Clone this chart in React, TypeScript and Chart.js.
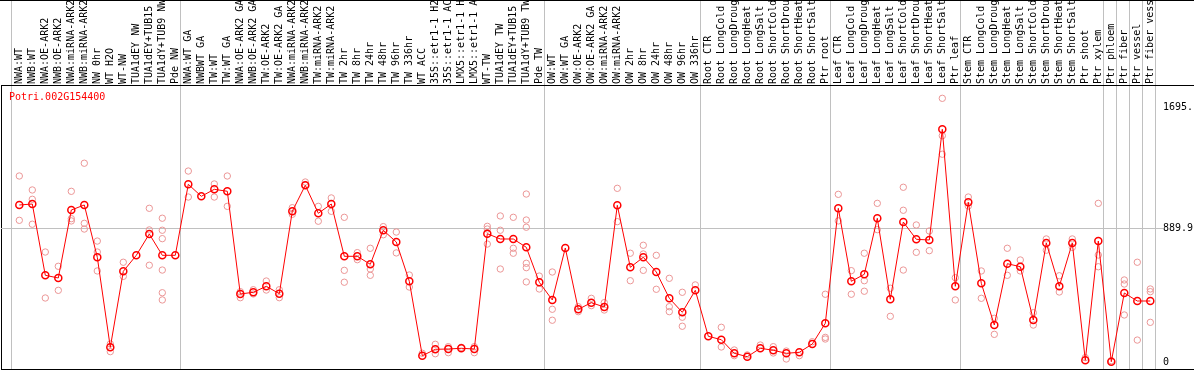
import React, { useEffect, useRef } from 'react';
import { Chart, registerables } from 'chart.js';

Chart.register(...registerables);

const geneId = 'Potri.002G154400';

const categories = [
  'NWA:WT', 'NWB:WT', 'NWA:OE-ARK2', 'NWB:OE-ARK2', 'NWA:miRNA-ARK2', 'NWB:miRNA-ARK2', 'NW 0hr', 'WT H2O', 'WT-NW', 'TUA1dEY NW',
  'TUA1dEY+TUB15 NW', 'TUA1dY+TUB9 NW', 'Pde NW', 'NWA:WT GA', 'NWBWT GA', 'TW:WT', 'TW:WT GA', 'NWA:OE-ARK2 GA', 'NWB:OE-ARK2 GA', 'TW:OE-ARK2',
  'TW:OE-ARK2 GA', 'NWA:miRNA-ARK2 GA', 'NWB:miRNA-ARK2 GA', 'TW:miRNA-ARK2', 'TW:miRNA-ARK2 GA', 'TW 2hr', 'TW 8hr', 'TW 24hr', 'TW 48hr', 'TW 96hr',
  'TW 336hr', 'WT ACC', '35S::etr1-1 H2O', '35S::etr1-1 ACC', 'LMX5::etr1-1 H2O', 'LMX5::etr1-1 ACC', 'WT-TW', 'TUA1dEY TW', 'TUA1dEY+TUB15 TW', 'TUA1dY+TUB9 TW',
  'Pde TW', 'OW:WT', 'OW:WT GA', 'OW:OE-ARK2', 'OW:OE-ARK2 GA', 'OW:miRNA-ARK2', 'OW:miRNA-ARK2 GA', 'OW 2hr', 'OW 8hr', 'OW 24hr',
  'OW 48hr', 'OW 96hr', 'OW 336hr', 'Root CTR', 'Root LongCold', 'Root LongDrought', 'Root LongHeat', 'Root LongSalt', 'Root ShortCold', 'Root ShortDrought',
  'Root ShortHeat', 'Root ShortSalt', 'Ptr root', 'Leaf CTR', 'Leaf LongCold', 'Leaf LongDrought', 'Leaf LongHeat', 'Leaf LongSalt', 'Leaf ShortCold', 'Leaf ShortDrought',
  'Leaf ShortHeat', 'Leaf ShortSalt', 'Ptr leaf', 'Stem CTR', 'Stem LongCold', 'Stem LongDrought', 'Stem LongHeat', 'Stem LongSalt', 'Stem ShortCold', 'Stem ShortDrought',
  'Stem ShortHeat', 'Stem ShortSalt', 'Ptr shoot', 'Ptr xylem', 'Ptr phloem', 'Ptr fiber', 'Ptr vessel', 'Ptr fiber vessel',
];

const means = [
  1045.0, 1051.6, 577.1, 559.1, 1011.7, 1045.0, 696.9, 97.8, 603.7, 710.2,
  852.0, 710.2, 710.2, 1182.8, 1102.9, 1149.5, 1136.2, 452.6, 463.9, 503.9,
  454.6, 1003.1, 1176.1, 989.7, 1051.6, 703.5, 703.5, 650.3, 876.6, 798.7,
  537.1, 41.9, 84.5, 86.5, 91.2, 86.5, 854.0, 818.7, 818.7, 763.4,
  530.5, 412.7, 758.8, 350.8, 394.7, 366.1, 1043.0, 630.3, 696.9, 599.0,
  424.0, 330.8, 477.2, 171.1, 148.4, 57.9, 35.3, 91.2, 77.9, 57.9,
  64.6, 119.8, 257.6, 1023.0, 537.1, 583.7, 956.5, 417.3, 931.8, 816.7,
  812.0, 1548.9, 503.9, 1062.9, 523.8, 246.3, 654.3, 634.3, 279.6, 792.1,
  503.9, 792.1, 11.3, 805.4, 2.0, 459.3, 406.0, 406.0,
];

const replicates: number[][] = [
  [1238, 943], [1145, 1083, 917], [732, 426], [637, 477], [1136, 954, 939],
  [1323, 923, 885], [805, 732, 606], [120, 69], [664, 570], [],
  [1023, 879, 644], [957, 877, 821, 612, 461, 413], [], [1271, 1098], [],
  [1185, 1098], [1238, 1036], [428, 468], [481, 453], [539, 479],
  [481, 428], [1027, 983], [1198, 1178], [1036, 937], [1092, 1003],
  [963, 610, 531], [728, 681], [757, 619, 577], [901, 847], [865, 726],
  [579, 499], [58], [118, 55], [102, 62], [98],
  [102, 62], [903, 885, 785], [972, 877, 619], [963, 757, 724], [1118, 945, 897, 657, 628, 533],
  [572, 486], [599, 351, 278], [], [368, 335], [424, 375],
  [395, 346], [1156, 934], [724, 541], [777, 719, 610], [710, 484],
  [557, 368, 335], [464, 298, 238], [513], [], [231, 100],
  [80, 42], [47], [113], [102, 60], [73, 20],
  [42], [135], [451, 164, 153], [1116, 939], [608, 451],
  [724, 541, 471], [1056, 881], [491, 304], [1163, 1010, 612], [912, 730],
  [872, 741], [1755, 1506, 1383], [561, 413], [1098, 1038], [606, 424],
  [291, 184], [757, 577], [679, 606], [328, 246], [819, 744],
  [574, 466], [819, 763], [29], [1056, 712, 634], [9],
  [546, 519, 313], [664, 146], [486, 468, 264],
];

const yTickValues = [0, 889.9, 1695.0];
const yTickLabels = ['0', '889.9', '1695.'];
// category index where a new group starts (grid line drawn on its left side)
const groupStarts = [0, 13, 41, 53, 63, 73, 84, 85, 86, 87, 88];

const noPadding = (s: any) => {
  s.paddingLeft = 0;
  s.paddingRight = 0;
  s.paddingTop = 0;
  s.paddingBottom = 0;
};

export default function App() {
  const ref = useRef<HTMLCanvasElement>(null);

  useEffect(() => {
    document.body.style.margin = '0';
    const X_MIN = -1.4077;
    const X_MAX = 87.515;
    const Y_MIN = -46.6;
    const Y_MAX = 1843.7;
    const font = { family: "'DejaVu Sans Mono', monospace", size: 10 };
    const transparent = 'rgba(0,0,0,0)';

    const geneLabel = {
      id: 'geneLabel',
      afterDraw(chart: any) {
        const { ctx, chartArea } = chart;
        ctx.save();
        ctx.font = "10px 'DejaVu Sans Mono', monospace";
        ctx.fillStyle = '#ff0000';
        ctx.textBaseline = 'middle';
        ctx.textAlign = 'left';
        ctx.fillText(geneId, chartArea.left + 8, chartArea.top + 12);
        ctx.restore();
      },
    };

    const chart = new Chart(ref.current as HTMLCanvasElement, {
      type: 'scatter',
      data: {
        datasets: [
          {
            label: 'mean',
            data: means.map((v, i) => ({ x: i, y: v })),
            showLine: true,
            borderColor: '#ff0000',
            borderWidth: 1,
            pointRadius: 3.5,
            pointBorderWidth: 1.5,
            pointBorderColor: '#ff0000',
            pointBackgroundColor: transparent,
            order: 0,
          },
          {
            label: 'replicates',
            data: replicates.flatMap((arr, i) => arr.map((v) => ({ x: i, y: v }))),
            showLine: false,
            pointRadius: 3.2,
            pointBorderWidth: 1,
            pointBorderColor: '#eb9696',
            pointBackgroundColor: transparent,
            order: 1,
          },
        ],
      },
      options: {
        animation: false,
        responsive: false,
        maintainAspectRatio: false,
        layout: { autoPadding: false, padding: { left: 1, right: 0, top: 0, bottom: 1 } },
        plugins: {
          legend: { display: false },
          tooltip: { enabled: false },
          title: { display: false },
        },
        scales: {
          x: {
            type: 'linear',
            position: 'top',
            min: X_MIN,
            max: X_MAX,
            weight: 1,
            afterBuildTicks: (s: any) => {
              s.ticks = categories.map((_, i) => ({ value: i }));
            },
            afterFit: (s: any) => {
              s.height = 84;
              noPadding(s);
            },
            ticks: {
              autoSkip: false,
              minRotation: 90,
              maxRotation: 90,
              padding: 1,
              labelOffset: 12.5,
              color: '#000',
              font,
              callback: (v: any) => categories[v] ?? '',
            },
            grid: { display: false, drawTicks: false },
            border: { display: false },
          },
          xg: {
            type: 'linear',
            axis: 'x',
            position: 'top',
            min: X_MIN,
            max: X_MAX,
            weight: 0,
            afterBuildTicks: (s: any) => {
              s.ticks = [{ value: X_MIN }, ...groupStarts.map((k) => ({ value: k - 0.615 }))];
            },
            afterFit: (s: any) => {
              s.height = 0;
              noPadding(s);
            },
            ticks: { display: false },
            grid: {
              color: (c: any) => (c.index === 0 ? '#000000' : '#c0c0c0'),
              tickColor: (c: any) => (c.index === 0 ? transparent : '#c0c0c0'),
              tickLength: 84,
              lineWidth: 1,
            },
            border: { display: false },
          },
          yf: {
            type: 'linear',
            axis: 'y',
            position: 'right',
            min: Y_MIN,
            max: Y_MAX,
            weight: 0,
            afterBuildTicks: (s: any) => {
              s.ticks = [{ value: Y_MIN }, { value: Y_MAX }];
            },
            afterFit: (s: any) => {
              s.width = 0;
              noPadding(s);
            },
            ticks: { display: false },
            grid: { drawOnChartArea: false, color: '#000000', tickLength: 37 },
            border: { display: false },
          },
          y: {
            type: 'linear',
            position: 'right',
            min: Y_MIN,
            max: Y_MAX,
            weight: 1,
            afterBuildTicks: (s: any) => {
              s.ticks = [Y_MIN, ...yTickValues, Y_MAX].map((v) => ({ value: v }));
            },
            afterFit: (s: any) => {
              s.width = 37;
              noPadding(s);
            },
            ticks: {
              autoSkip: false,
              color: '#000',
              font,
              padding: 0,
              callback: (v: any) => {
                const k = yTickValues.indexOf(v);
                return k >= 0 ? yTickLabels[k] : '';
              },
            },
            grid: {
              color: (c: any) => {
                const v = c.tick ? c.tick.value : null;
                if (v === Y_MIN || v === Y_MAX) return '#000000';
                if (v === 889.9) return '#c0c0c0';
                return transparent;
              },
              tickColor: (c: any) => {
                const v = c.tick ? c.tick.value : null;
                return v === 889.9 ? '#c0c0c0' : transparent;
              },
              tickLength: 6,
            },
            border: { display: false },
          },
        },
      } as any,
      plugins: [geneLabel],
    });
    return () => chart.destroy();
  }, []);

  return (
    <div
      style={{
        position: 'absolute',
        left: 0,
        top: 0,
        width: 1194,
        height: 369,
        borderTop: '1px solid #000',
        background: '#fff',
      }}
    >
      <canvas ref={ref} width={1194} height={369} style={{ display: 'block' }} />
    </div>
  );
}
